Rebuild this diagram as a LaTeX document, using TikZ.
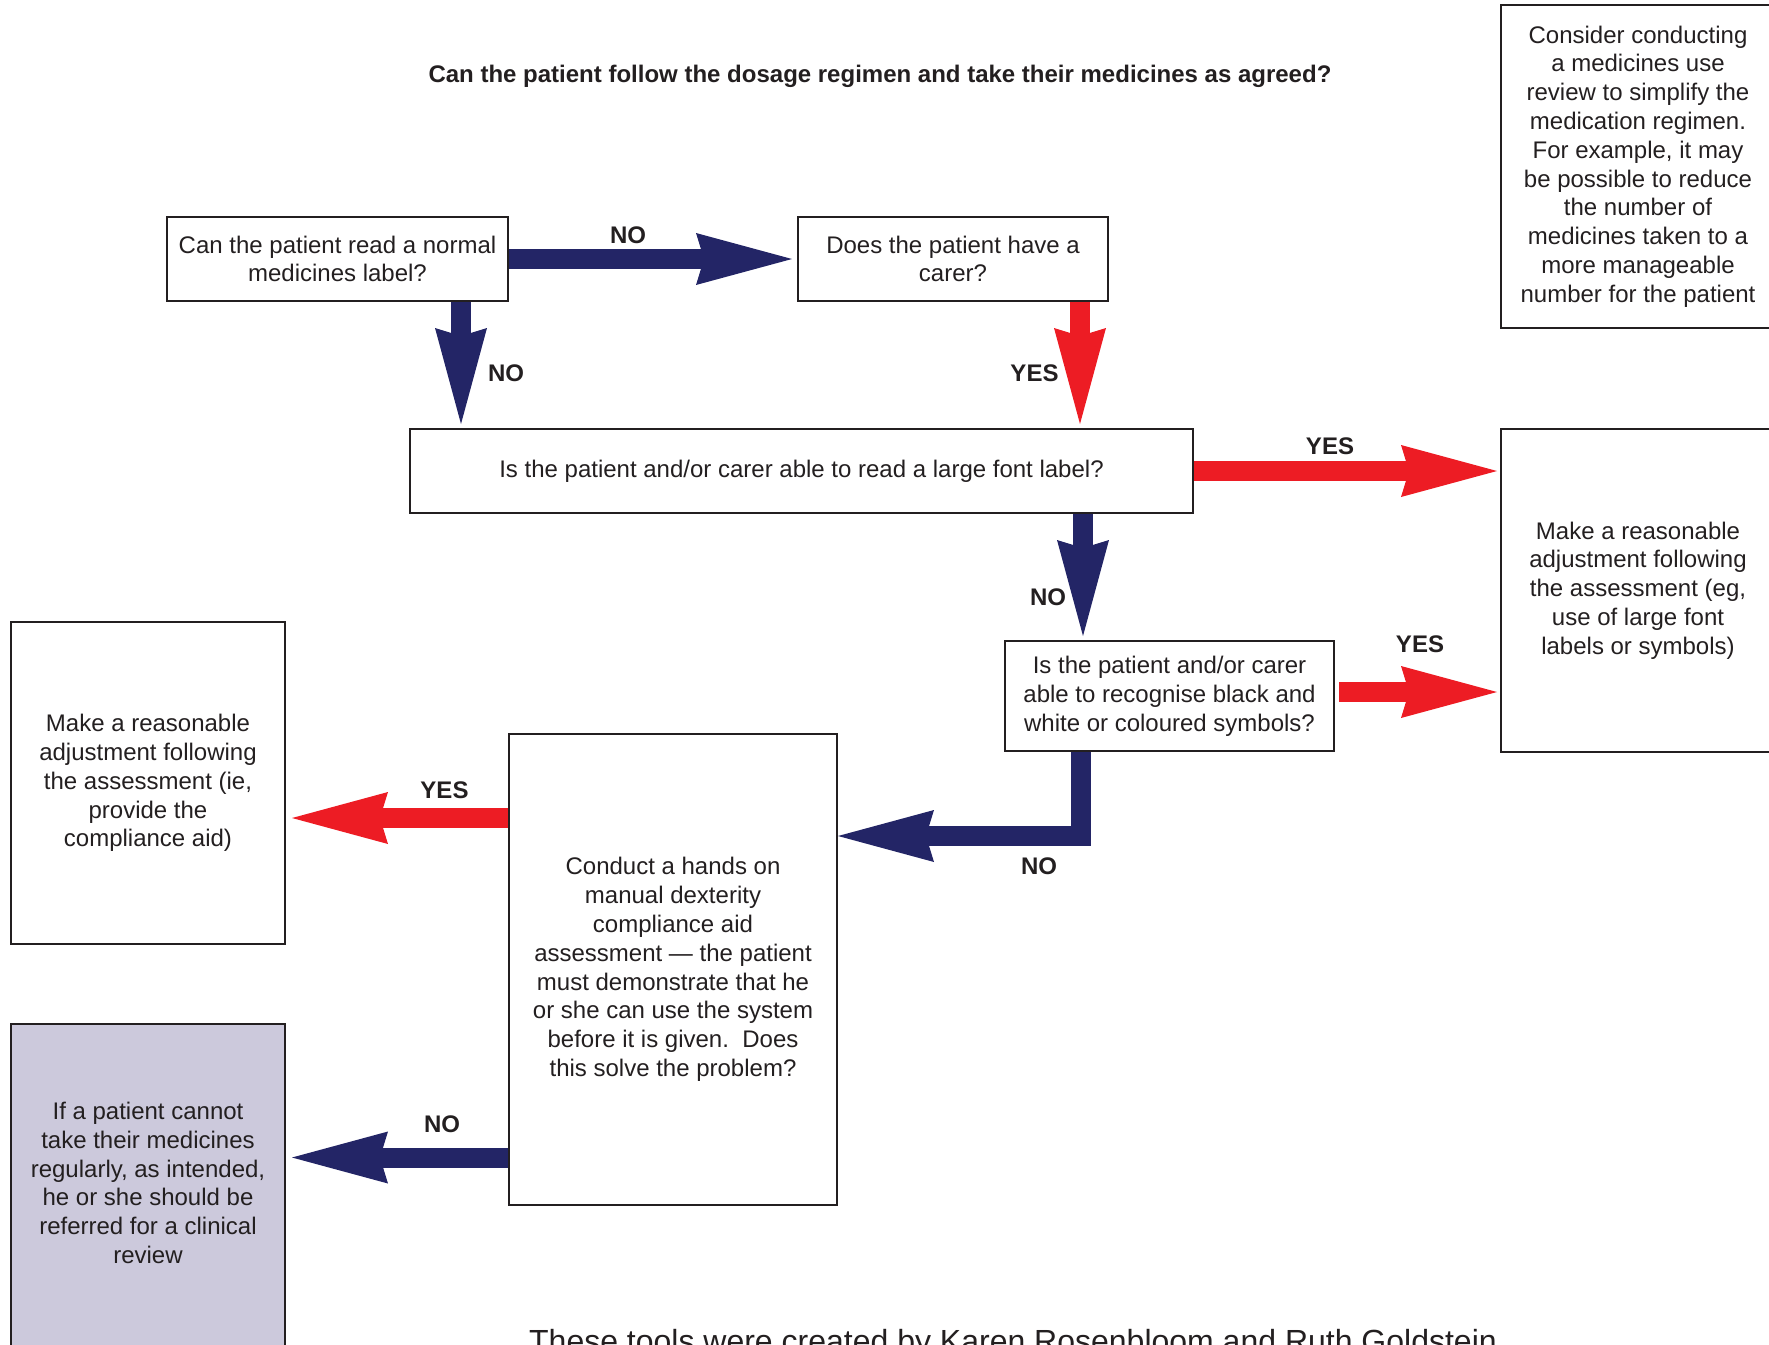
\documentclass[tikz,border=0pt]{standalone}
\usepackage{fontspec}
\setmainfont{Liberation Sans}
\setsansfont{Liberation Sans}
\usetikzlibrary{arrows.meta,calc}
\definecolor{navyc}{RGB}{35,37,102}
\definecolor{redc}{RGB}{237,28,36}
\definecolor{inkc}{RGB}{35,31,32}
\definecolor{lavc}{RGB}{204,201,220}
\begin{document}
\begin{tikzpicture}[x=0.5pt,y=-0.5pt,
  box/.style={draw=inkc, line width=1pt, rectangle, inner sep=0pt, align=center, text=inkc, font=\fontsize{12}{14.4}\selectfont},
  txt/.style={align=center, text=inkc, font=\fontsize{12}{14.4}\selectfont, inner sep=0pt},
  lbl/.style={text=inkc, font=\bfseries\fontsize{12}{14.4}\selectfont, inner sep=0pt},
  arrN/.style={draw=navyc, line width=10pt, line cap=butt, -{Stealth[length=48pt,width=26pt,inset=4pt,line width=0pt]}},
  arrR/.style={draw=redc, line width=10pt, line cap=butt, -{Stealth[length=48pt,width=26pt,inset=4pt,line width=0pt]}}]
\useasboundingbox (0,0) rectangle (1769,1345);

\node[lbl] (title) at (880,76) {Can the patient follow the dosage regimen and take their medicines as agreed?};

\node[box, minimum width=170.5pt, minimum height=42pt] (b1) at (337.5,259) {Can the patient read a normal\\medicines label?};
\node[box, minimum width=155pt, minimum height=42pt] (b2) at (953,259) {Does the patient have a\\carer?};
\node[box, minimum width=391.5pt, minimum height=42pt] (b3) at (801.5,471) {Is the patient and/or carer able to read a large font label?};
\node[box, minimum width=164.5pt, minimum height=55pt] (b4) at (1169.5,696) {Is the patient and/or carer\\able to recognise black and\\white or coloured symbols?};
\node[box, minimum width=137pt, minimum height=161.5pt] (b5) at (1638,166.5) {Consider conducting\\a medicines use\\review to simplify the\\medication regimen.\\For example, it may\\be possible to reduce\\the number of\\medicines taken to a\\more manageable\\number for the patient};
\node[box, minimum width=137pt, minimum height=161.5pt] (b6) at (1638,590.5) {Make a reasonable\\adjustment following\\the assessment (eg,\\use of large font\\labels or symbols)};
\node[box, minimum width=137pt, minimum height=161pt] (b7) at (148,783) {Make a reasonable\\adjustment following\\the assessment (ie,\\provide the\\compliance aid)};
\node[box, minimum width=164pt, minimum height=235.5pt] (b8) at (673,969.5) {Conduct a hands on\\manual dexterity\\compliance aid\\assessment — the patient\\must demonstrate that he\\or she can use the system\\before it is given.\ \ Does\\this solve the problem?};
\node[box, fill=lavc, minimum width=137pt, minimum height=168pt] (b9) at (148,1192) {};
\node[txt] (t9) at (148,1183) {If a patient cannot\\take their medicines\\regularly, as intended,\\he or she should be\\referred for a clinical\\review};

% connectors
\draw[arrN] (b1.east) -- ([xshift=-2.5pt]b2.west);
\path (b1.south) ++(123.5,0) coordinate (a2s);
\draw[arrN, shorten >=2pt] (a2s) -- (a2s |- b3.north);
\path (b2.south) ++(127,0) coordinate (a3s);
\draw[arrR, shorten >=2pt] (a3s) -- (a3s |- b3.north);
\draw[arrR, shorten >=1.5pt] (b3.east) -- (b3.east -| b6.west);
\path (b3.south) ++(281.5,0) coordinate (a5s);
\draw[arrN, shorten >=2pt] (a5s) -- (a5s |- b4.north);
\path (b4.east) ++(4,-4) coordinate (a6s);
\draw[arrR, shorten >=1.5pt] (a6s) -- (a6s -| b6.west);
\path (b4.south) ++(-88.5,0) coordinate (a7s);
\path (b8.east) ++(0,-133.5) coordinate (a7e);
\draw[arrN, line join=miter] (a7s) |- (a7e);
\path (b8.west) ++(0,-151.5) coordinate (a8s);
\draw[arrR, shorten >=3pt] (a8s) -- (a8s -| b7.east);
\path (b8.west) ++(0,188) coordinate (a9s);
\draw[arrN, shorten >=3pt] (a9s) -- (a9s -| b9.east);

% labels
\node[lbl] (l1) at (628,235) {NO};
\node[lbl] (l2) at (506,373) {NO};
\node[lbl] (l3) at (1034.5,373) {YES};
\node[lbl] (l4) at (1330,446) {YES};
\node[lbl] (l5) at (1048,597) {NO};
\node[lbl] (l6) at (1420,644) {YES};
\node[lbl] (l7) at (1039,866) {NO};
\node[lbl] (l8) at (444.5,790) {YES};
\node[lbl] (l9) at (442,1124) {NO};

\node[text=inkc, font=\fontsize{16}{19}\selectfont, anchor=base, inner sep=0pt] (foot) at (1013,1352) {These tools were created by Karen Rosenbloom and Ruth Goldstein};
\end{tikzpicture}
\end{document}
